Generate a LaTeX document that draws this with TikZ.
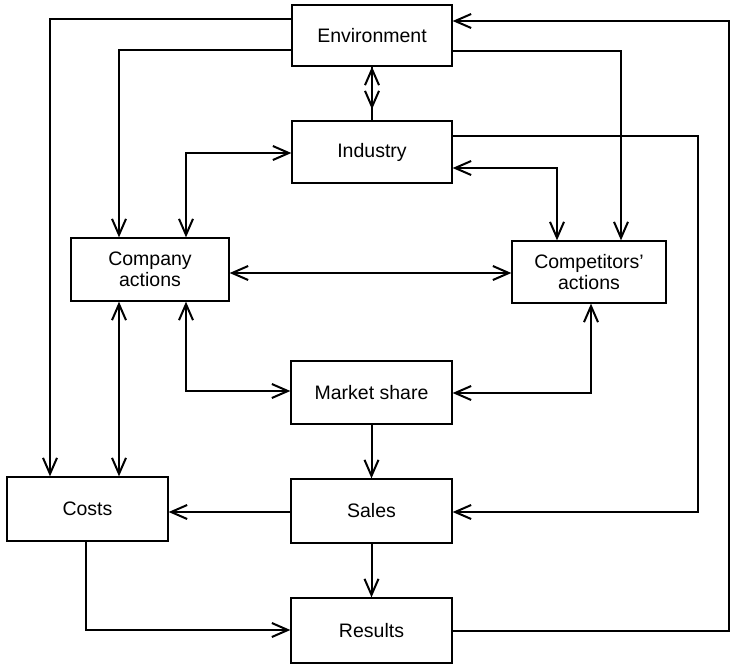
\documentclass[tikz,border=0pt]{standalone}
\usepackage{fontspec}
\setmainfont{Liberation Sans}
\usetikzlibrary{arrows.meta}
\begin{document}
\begin{tikzpicture}[x=1pt,y=-1pt,
  box/.style={draw, line width=1.3pt, inner sep=0pt, align=center,
    font=\fontsize{19.5}{21}\selectfont},
  conn/.style={line width=2pt},
  tip/.tip={Straight Barb[length=16pt,width=14pt]},
  arr/.style={conn, -tip},
  darr/.style={conn, tip-tip}]
\useasboundingbox (0,0) rectangle (731,665);
% nodes
\node[box, minimum width=160pt, minimum height=61pt] (env) at (372,35.5) {Environment};
\node[box, minimum width=160pt, minimum height=62pt] (ind) at (372,152) {Industry};
\node[box, minimum width=158pt, minimum height=63pt] (comp) at (150,269.5) {Company\\actions};
\node[box, minimum width=154pt, minimum height=62pt] (compet) at (589,272) {Competitors'\\actions};
\node[box, minimum width=161pt, minimum height=63pt] (mkt) at (371.5,392.5) {Market share};
\node[box, minimum width=161pt, minimum height=64pt] (costs) at (87.5,509) {Costs};
\node[box, minimum width=161pt, minimum height=64pt] (sales) at (371.5,511) {Sales};
\node[box, minimum width=161pt, minimum height=65pt] (res) at (371.5,630.5) {Results};
% corner coordinates
\coordinate (rtop) at (729,21);
\coordinate (rind) at (698,512);
% connectors
\draw[arr] (env.west |- 0,19) -| (50,0 |- costs.north);
\draw[arr] (env.west |- 0,50) -| (119,0 |- comp.north);
\draw[arr] (res.east |- 0,631) -| (rtop) -- (env.east |- rtop);
\draw[arr] (env.east |- 0,51) -| (621,0 |- compet.north);
\draw[arr] (ind.east |- 0,136) -| (rind) -- (sales.east |- rind);
\draw[darr] (ind.east |- 0,168) -| (557,0 |- compet.north);
\draw[darr] (ind.west |- 0,153) -| (186,0 |- comp.north);
\draw[arr] (ind.north) -- (env.south);
\draw[arr] (env.south) -- ([yshift=11pt]ind.north);
\draw[darr] (comp.east |- 0,273) -- (compet.west |- 0,273);
\draw[darr] (186,0 |- comp.south) |- (mkt.west |- 0,391);
\draw[darr] (591,0 |- compet.south) |- (mkt.east |- 0,393);
\draw[darr] (119,0 |- comp.south) -- (119,0 |- costs.north);
\draw[arr] (mkt.south) -- (sales.north);
\draw[arr] (sales.west |- 0,512) -- (costs.east |- 0,512);
\draw[arr] (sales.south) -- (res.north);
\draw[arr] (86,0 |- costs.south) |- (res.west |- 0,630);
\end{tikzpicture}
\end{document}
